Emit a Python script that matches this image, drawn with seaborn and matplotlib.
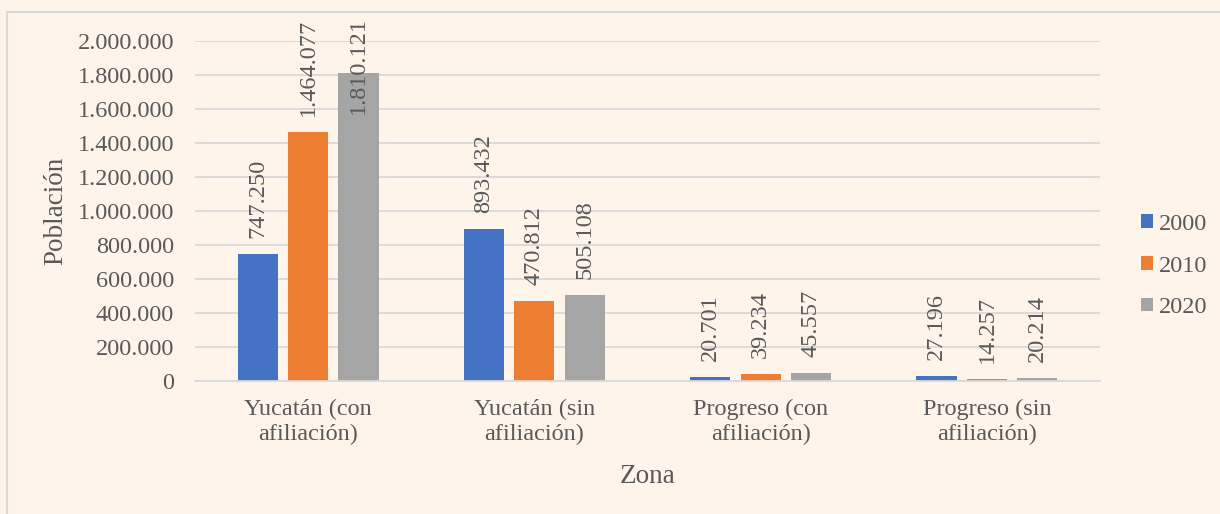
import matplotlib
matplotlib.use("Agg")
import matplotlib.pyplot as plt
import seaborn as sns
import pandas as pd
from matplotlib.ticker import FuncFormatter
from matplotlib.patches import Rectangle

zonas = ["Yucatán (con\nafiliación)", "Yucatán (sin\nafiliación)", "Progreso (con\nafiliación)", "Progreso (sin\nafiliación)"]
anios = ["2000", "2010", "2020"]
v2000 = [747250, 893432, 20701, 27196]
v2010 = [1464077, 470812, 39234, 14257]
v2020 = [1810121, 505108, 45557, 20214]
colores = ["#4472C4", "#ED7D31", "#A5A5A5"]
yticks = [0, 200000, 400000, 600000, 800000, 1000000, 1200000, 1400000, 1600000, 1800000, 2000000]

rows = []
for anio, vals in zip(anios, [v2000, v2010, v2020]):
    for z, v in zip(zonas, vals):
        rows.append({"Zona": z, "Año": anio, "Población": v})
df = pd.DataFrame(rows)

sns.set_theme(style="white")
plt.rcParams['font.family'] = ['Liberation Serif', 'DejaVu Serif']
bg = "#FEF4E9"
txt = "#595959"
fs = 17.5

fig = plt.figure(figsize=(12.2, 5.14), dpi=100, facecolor=bg)
ax = fig.add_axes([195/1220, 1 - 381/514, 905/1220, 340/514])
ax.set_facecolor(bg)

sns.barplot(data=df, x="Zona", y="Población", hue="Año", palette=colores,
            width=0.667, gap=0.2, ax=ax, legend=True, saturation=1, linewidth=0)

ax.set_ylim(0, 2000000)
ax.set_xlim(-0.5, 3.5)
ax.set_yticks(yticks)
fmt = lambda v: f"{int(round(v)):,}".replace(",", ".")
ax.yaxis.set_major_formatter(FuncFormatter(lambda v, p: fmt(v)))
ax.grid(axis="y", color="#D9D9D9", linewidth=1.3)
ax.set_axisbelow(True)
for s in ["top", "right", "left"]:
    ax.spines[s].set_visible(False)
ax.spines["bottom"].set_color("#D9D9D9")
ax.spines["bottom"].set_linewidth(1.3)
ax.tick_params(axis="both", length=0, labelsize=fs, colors=txt)
ax.tick_params(axis="y", pad=15)
ax.tick_params(axis="x", pad=13)

# data labels: outside end, pushed down when they would exceed the chart top
pad_data = 16 * 2000000 / 340
cap = 1570000
for cont in ax.containers:
    for b in cont:
        h = b.get_height()
        xc = b.get_x() + b.get_width() / 2
        ax.text(xc, min(h + pad_data, cap), fmt(h), rotation=90, ha="center", va="bottom",
                fontsize=fs, color=txt, clip_on=False)

ax.set_ylabel("")
fig.text(56/1220, 1 - 211/514, "Población", rotation=90, ha="center", va="center",
         fontsize=19.5, color=txt)
ax.set_xlabel("Zona", fontsize=19.5, color=txt)
ax.xaxis.set_label_coords(0.5, (381 - 464) / 340)

handles, labels = ax.get_legend_handles_labels()
leg = ax.legend(handles, labels, loc="center left", bbox_to_anchor=(1141/1220, 1 - 266/514),
                bbox_transform=fig.transFigure, frameon=False, borderaxespad=0, borderpad=0,
                fontsize=fs, handlelength=0.5, handleheight=0.5, handletextpad=0.25,
                labelspacing=0.85, labelcolor=txt)

fig.patches.append(Rectangle((6.5/1220, -0.05), 1.2, 1 - 12/514 + 0.05, transform=fig.transFigure,
                             fill=False, edgecolor="#D9D9D9", linewidth=1.5))

fig.savefig("out.png", dpi=100, facecolor=bg)
